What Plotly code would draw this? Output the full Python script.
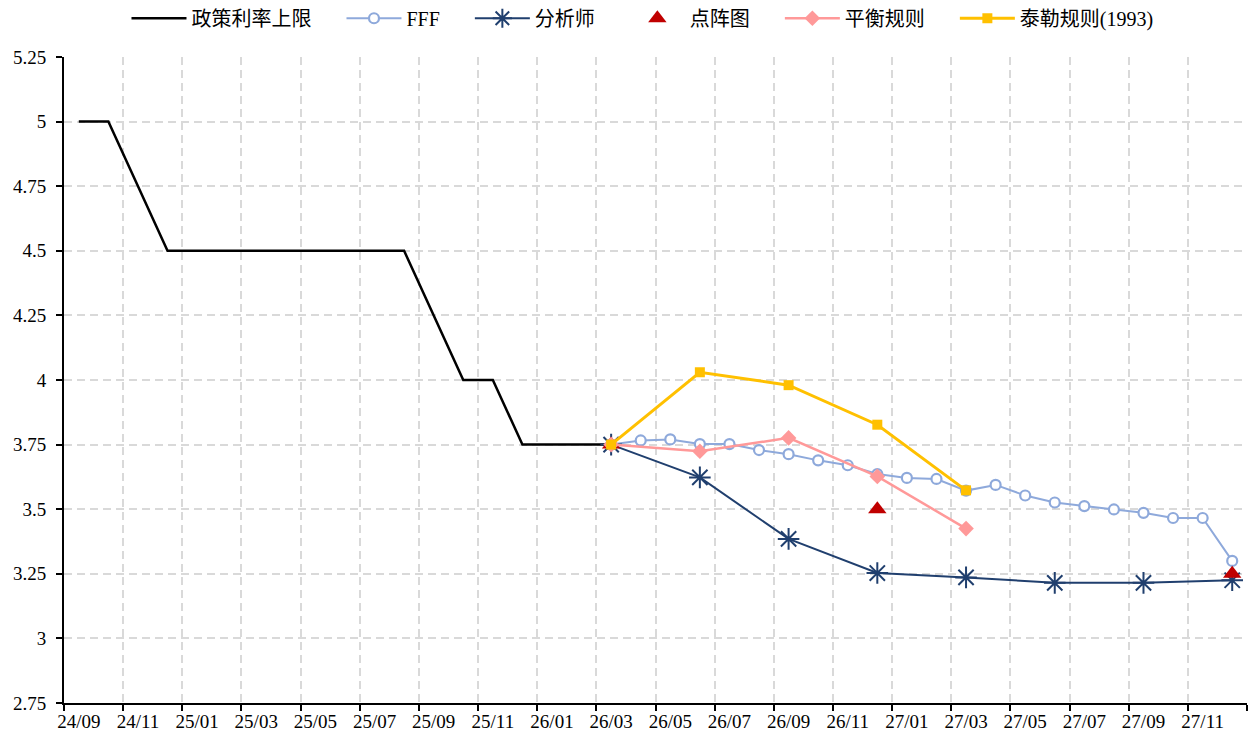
import plotly.graph_objects as go

months = ["24/09","24/10","24/11","24/12","25/01","25/02","25/03","25/04","25/05","25/06",
          "25/07","25/08","25/09","25/10","25/11","25/12","26/01","26/02","26/03","26/04",
          "26/05","26/06","26/07","26/08","26/09","26/10","26/11","26/12","27/01","27/02",
          "27/03","27/04","27/05","27/06","27/07","27/08","27/09","27/10","27/11","27/12"]

policy_months = ["24/09","24/10","24/12","25/08","25/10","25/11","25/12","26/03"]
policy_vals = [5.0, 5.0, 4.5, 4.5, 4.0, 4.0, 3.75, 3.75]

fff_months = months[18:]
fff_vals = [3.75, 3.766, 3.77, 3.752, 3.752, 3.729, 3.713, 3.689, 3.67, 3.636, 3.621, 3.617,
            3.572, 3.594, 3.553, 3.526, 3.512, 3.499, 3.486, 3.466, 3.466, 3.30]

quarter_months = ["26/03","26/06","26/09","26/12","27/03","27/06","27/09","27/12"]
analyst_vals = [3.75, 3.623, 3.385, 3.253, 3.236, 3.215, 3.215, 3.225]

dot_months = ["26/03","26/12","27/12"]
dot_vals = [3.75, 3.5, 3.25]

balance_months = ["26/03","26/06","26/09","26/12","27/03"]
balance_vals = [3.75, 3.724, 3.776, 3.627, 3.425]

taylor_months = ["26/03","26/06","26/09","26/12","27/03"]
taylor_vals = [3.75, 4.03, 3.98, 3.827, 3.573]

series_names = ["政策利率上限", "FFF", "分析师", "点阵图", "平衡规则", "泰勒规则(1993)"]

tick_labels = months[::2]
y_ticks = [2.75, 3, 3.25, 3.5, 3.75, 4, 4.25, 4.5, 4.75, 5, 5.25]
y_tick_labels = ["2.75", "3", "3.25", "3.5", "3.75", "4", "4.25", "4.5", "4.75", "5", "5.25"]

idx = {m: i for i, m in enumerate(months)}
def xs(ms):
    return [idx[m] for m in ms]

PAD = "\u00a0" * 5
def nm(i):
    return series_names[i] + (PAD if i < len(series_names) - 1 else "")

FONT = "Times New Roman, Liberation Serif, Noto Sans CJK SC, serif"
GRID = "#D9D9D9"

fig = go.Figure()
fig.add_trace(go.Scatter(x=xs(policy_months), y=policy_vals, name=nm(0), mode="lines",
                         line=dict(color="#000000", width=2.5)))
fig.add_trace(go.Scatter(x=xs(fff_months), y=fff_vals, name=nm(1), mode="lines+markers",
                         line=dict(color="#8EA9DB", width=2),
                         marker=dict(symbol="circle", size=10, color="#FFFFFF",
                                     line=dict(color="#8EA9DB", width=2.2))))
fig.add_trace(go.Scatter(x=xs(quarter_months), y=analyst_vals, name=nm(2), mode="lines+markers",
                         line=dict(color="#203F6E", width=2),
                         marker=dict(symbol="asterisk-open", size=18,
                                     line=dict(color="#203F6E", width=2))))
fig.add_trace(go.Scatter(x=xs(dot_months), y=dot_vals, name=nm(3), mode="markers",
                         marker=dict(symbol="triangle-up", size=16, color="#C00000")))
fig.add_trace(go.Scatter(x=xs(balance_months), y=balance_vals, name=nm(4), mode="lines+markers",
                         line=dict(color="#FF9999", width=2.5),
                         marker=dict(symbol="diamond", size=12, color="#FF9999")))
fig.add_trace(go.Scatter(x=xs(taylor_months), y=taylor_vals, name=nm(5), mode="lines+markers",
                         line=dict(color="#FFC000", width=3),
                         marker=dict(symbol="square", size=10, color="#FFC000")))

fig.update_layout(
    width=1250, height=732,
    margin=dict(l=56, r=11, t=49, b=37, autoexpand=False),
    paper_bgcolor="white", plot_bgcolor="white",
    font=dict(family=FONT, size=19, color="#000000"),
    showlegend=True,
    legend=dict(orientation="h", x=0.489, xanchor="center", y=1.06, yanchor="middle",
                font=dict(size=20, family=FONT), itemwidth=55, tracegroupgap=0,
                bgcolor="rgba(0,0,0,0)"),
    xaxis=dict(
        range=[-0.5, 39.5],
        tickmode="array", tickvals=list(range(0, 40, 2)), ticktext=tick_labels,
        ticks="", showgrid=False, zeroline=False,
        showline=True, linecolor="#000000", linewidth=2,
        tickfont=dict(size=19, family=FONT),
        minor=dict(tickmode="linear", tick0=-0.5, dtick=2, ticks="outside", ticklen=6,
                   tickcolor="#000000", tickwidth=2, showgrid=True,
                   gridcolor=GRID, griddash="8px,5px", gridwidth=1.5),
    ),
    yaxis=dict(
        range=[2.75, 5.25], tickmode="array", tickvals=y_ticks, ticktext=y_tick_labels,
        ticks="outside", ticklen=6, tickcolor="#000000", tickwidth=2,
        ticklabelstandoff=6,
        showgrid=True, gridcolor=GRID, griddash="8px,5px", gridwidth=1.5,
        zeroline=False, showline=True, linecolor="#000000", linewidth=2,
        tickfont=dict(size=19, family=FONT),
    ),
)
fig.write_html("out.html")
